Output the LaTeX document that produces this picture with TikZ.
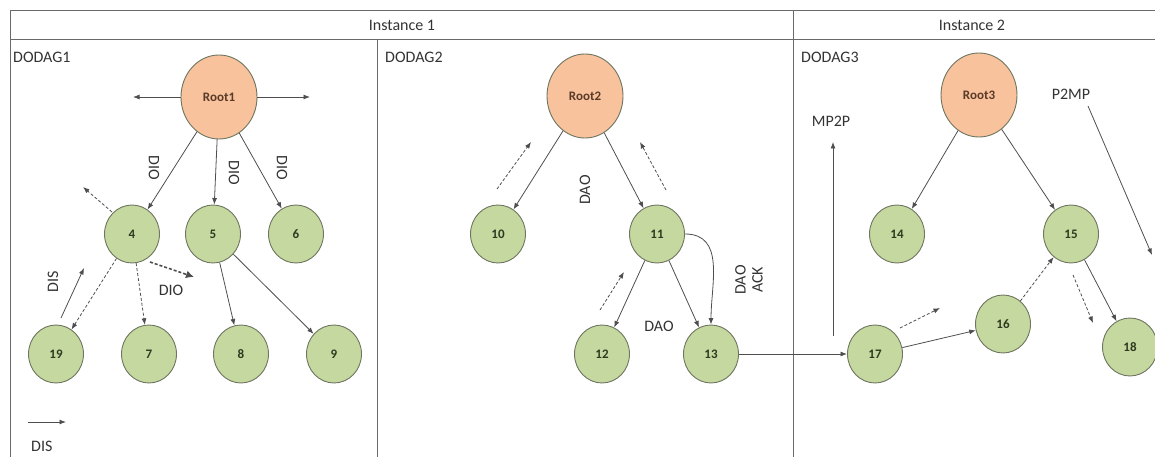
\documentclass[tikz,border=0pt]{standalone}
\usepackage{fontspec}
\setmainfont{Carlito}
\usetikzlibrary{arrows.meta,shapes.geometric}
\definecolor{rootfill}{HTML}{F8C29C}
\definecolor{leaffill}{HTML}{C5D89F}
\definecolor{nodeedge}{HTML}{6E7560}
\definecolor{linecol}{HTML}{4E4E4E}
\definecolor{framecol}{HTML}{6A6A6A}
\definecolor{txtcol}{HTML}{333333}
\definecolor{roottxt}{HTML}{5A3A28}
\definecolor{leaftxt}{HTML}{2E3A20}
\begin{document}
\begin{tikzpicture}[x=1pt,y=-1pt,
  rootnode/.style={ellipse, draw=nodeedge, fill=rootfill, line width=0.9pt, minimum width=76pt, minimum height=84pt, inner sep=0pt, font=\bfseries\fontsize{13}{13}\selectfont, text=roottxt},
  leaf/.style={ellipse, draw=nodeedge, fill=leaffill, line width=0.9pt, minimum width=55pt, minimum height=58pt, inner sep=0pt, font=\bfseries\fontsize{13}{13}\selectfont, text=leaftxt},
  arr/.style={draw=linecol, line width=0.8pt, -{Latex[length=6.5pt,width=5pt]}},
  darr/.style={arr, dash pattern=on 3pt off 2pt},
  lbl/.style={font=\fontsize{16}{17}\selectfont, text=txtcol, inner sep=0pt},
  frame/.style={draw=framecol, line width=1pt}
]
\useasboundingbox (0,0) rectangle (1155,457);
% frame
\draw[frame] (1160,11) -- (10,11) -- (10,460);
\draw[frame] (10,40) -- (1160,40);
\draw[frame] (793,11) -- (793,460);
\draw[frame] (377,40) -- (377,460);
\node[lbl] (inst1) at (402,25) {Instance 1};
\node[lbl] (inst2) at (972,25) {Instance 2};
\node[lbl, anchor=west] (d1) at (13,57) {DODAG1};
\node[lbl, anchor=west] (d2) at (385,57) {DODAG2};
\node[lbl, anchor=west] (d3) at (801,57) {DODAG3};

% nodes
\node[rootnode] (r1) at (219,97) {Root1};
\node[rootnode] (r2) at (585,96) {Root2};
\node[rootnode] (r3) at (979,95) {Root3};
\node[leaf] (n4) at (132,234) {4};
\node[leaf] (n5) at (213,234) {5};
\node[leaf] (n6) at (296,234) {6};
\node[leaf] (n19) at (56,354) {19};
\node[leaf] (n7) at (149,354) {7};
\node[leaf] (n8) at (241,354) {8};
\node[leaf] (n9) at (334,354) {9};
\node[leaf] (n10) at (498,234) {10};
\node[leaf] (n11) at (657,234) {11};
\node[leaf] (n12) at (602,354) {12};
\node[leaf] (n13) at (711,354) {13};
\node[leaf] (n14) at (897,234) {14};
\node[leaf] (n15) at (1071,234) {15};
\node[leaf] (n16) at (1003,324) {16};
\node[leaf] (n17) at (875,354) {17};
\node[leaf] (n18) at (1130,347) {18};

% DODAG1
\coordinate (r1l) at (133,97);
\coordinate (r1r) at (310,97);
\draw[arr] (r1.west) -- (r1l);
\draw[arr] (r1.east) -- (r1r);
\draw[arr] (r1) -- (n4);
\draw[arr] (r1) -- (n5);
\draw[arr] (r1) -- (n6);
\node[lbl, rotate=-90] (dio1) at (154,168) {DIO};
\node[lbl, rotate=-90] (dio2) at (234,173) {DIO};
\node[lbl, rotate=-90] (dio3) at (282,168) {DIO};
\coordinate (a4s) at (112,212);
\coordinate (a4e) at (83,187);
\draw[darr] (a4s) -- (a4e);
\draw[darr] (n4) -- (n19);
\draw[darr] (n4) -- (n7);
\coordinate (b4s) at (150,262);
\coordinate (b4e) at (194,277);
\draw[draw=linecol, line width=1.6pt, dash pattern=on 3pt off 2pt, -{Latex[length=8pt,width=8pt]}] (b4s) -- (b4e);
\node[lbl] (dio4) at (171,290) {DIO};
\coordinate (c19s) at (61,318);
\coordinate (c19e) at (84,268);
\draw[arr] (c19s) -- (c19e);
\node[lbl, rotate=90] (dis1) at (53,282) {DIS};
\draw[arr] (n5) -- (n8);
\draw[arr] (n5) -- (n9);
\coordinate (legs) at (28,422);
\coordinate (lege) at (66,422);
\draw[arr] (legs) -- (lege);
\node[lbl, anchor=west] (dis2) at (31,446) {DIS};

% DODAG2
\draw[arr] (r2) -- (n10);
\draw[arr] (r2) -- (n11);
\coordinate (e1s) at (497,189);
\coordinate (e1e) at (531,142);
\draw[darr] (e1s) -- (e1e);
\coordinate (e2s) at (666,190);
\coordinate (e2e) at (640,142);
\draw[darr] (e2s) -- (e2e);
\node[lbl, rotate=90] (dao1) at (585,190) {DAO};
\draw[arr] (n11) -- (n12);
\draw[arr] (n11) -- (n13);
\draw[arr] (n11.east) to[out=0, in=90, looseness=1.1] (n13.north);
\node[lbl, rotate=90, align=center] (daoack) at (749,280) {DAO\\ACK};
\coordinate (f1s) at (600,310);
\coordinate (f1e) at (624,272);
\draw[darr] (f1s) -- (f1e);
\node[lbl] (dao2) at (659,326) {DAO};
\draw[arr] (n13) -- (n17);

% DODAG3
\draw[arr] (r3) -- (n14);
\draw[arr] (r3) -- (n15);
\coordinate (mps) at (833,336);
\coordinate (mpe) at (833,142);
\draw[arr] (mps) -- (mpe);
\node[lbl] (mp2p) at (831,121) {MP2P};
\node[lbl] (p2mp) at (1071,94) {P2MP};
\coordinate (pms) at (1088,106);
\coordinate (pme) at (1152,255);
\draw[arr] (pms) -- (pme);
\draw[arr] (n17) -- (n16);
\coordinate (g1s) at (900,328);
\coordinate (g1e) at (940,308);
\draw[darr] (g1s) -- (g1e);
\draw[darr] (n16) -- (n15);
\coordinate (h1s) at (1073,275);
\coordinate (h1e) at (1093,323);
\draw[darr] (h1s) -- (h1e);
\draw[arr] (n15) -- (n18);
\end{tikzpicture}
\end{document}
